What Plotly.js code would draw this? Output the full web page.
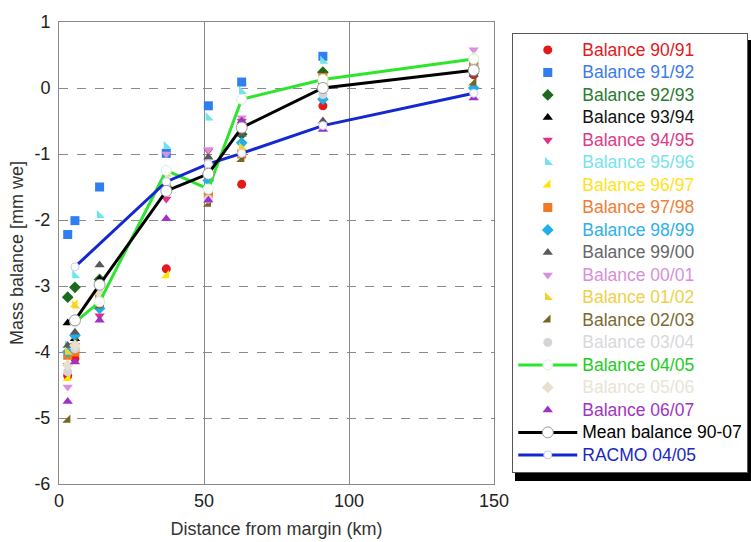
<!DOCTYPE html>
<html><head><meta charset="utf-8">
<script src="https://cdn.plot.ly/plotly-3.0.1.min.js"></script>
<style>body{margin:0;background:#fff}#chart{width:751px;height:542px}</style>
</head><body><div id="chart"></div>
<script>
// Station distances from margin (km)
const distance = [3, 5.5, 14, 37, 51.5, 63, 91, 143];
// Balance series (m we) per station
const b9091 = [-4.36, -4.10, -3.30, -2.74, -1.60, -1.46, -0.27, 0.20];
const b9192 = [-2.22, -2.01, -1.50, -0.99, -0.27, 0.09, 0.48, 0.35];
const b9293 = [-3.17, -3.02, -2.90, -1.50, -1.30, -0.70, 0.24, 0.30];
const b9394 = [-3.56, -3.80, -2.90, -1.50, -1.25, -0.60, 0.05, 0.25];
const b9495 = [-4.20, -3.90, -3.45, -1.68, -0.95, -0.50, 0.10, 0.40];
const b9596 = [-3.90, -2.84, -1.93, -0.88, -0.45, -0.05, 0.41, 0.35];
const b9697 = [-4.40, -3.28, -3.10, -2.84, -1.50, -0.93, 0.15, 0.30];
const b9798 = [-4.05, -4.00, -3.20, -1.50, -1.60, -1.00, 0.16, 0.36];
const b9899 = [-4.00, -3.75, -3.34, -1.40, -1.40, -0.83, -0.17, 0.00];
const b9900 = [-3.90, -3.70, -2.68, -1.45, -1.05, -0.70, -0.50, 0.20];
const b0001 = [-4.53, -3.90, -3.12, -1.00, -0.93, -0.45, -0.55, 0.58];
const b0102 = [-4.00, -3.30, -3.20, -1.30, -1.20, -0.90, 0.10, 0.30];
const b0203 = [-5.03, -3.85, -3.30, -1.50, -1.76, -1.08, 0.10, 0.08];
const b0304 = [-4.30, -3.95, -3.20, -1.45, -1.68, -0.60, -0.10, 0.30];
const b0405 = [null, -3.55, -3.24, -1.25, -1.53, -0.17, 0.13, 0.44];
const b0506 = [-4.20, -3.90, -3.10, -1.40, -1.30, -0.55, 0.10, 0.46];
const b0607 = [-4.75, -4.15, -3.52, -1.98, -1.70, -0.50, -0.63, -0.15];
const meanBal = [null, -3.52, -2.98, -1.56, -1.30, -0.60, 0.00, 0.27];
const racmo = [null, -2.71, null, -1.42, -1.15, -0.99, -0.57, -0.08];

const xTicks = [0, 50, 100, 150];
const yTicks = [-6, -5, -4, -3, -2, -1, 0, 1];

const scatterDefs = [
  ['Balance 90/91', b9091, 'circle', '#e3191c', '#e3191c'],
  ['Balance 91/92', b9192, 'square', '#2f7ff0', '#3c7be6'],
  ['Balance 92/93', b9293, 'diamond', '#1c6a1c', '#2a7a30'],
  ['Balance 93/94', b9394, 'triangle-up', '#000000', '#111111'],
  ['Balance 94/95', b9495, 'triangle-down', '#e0308a', '#e03a84'],
  ['Balance 95/96', b9596, 'triangle-sw', '#6fe3f2', '#78e2f0'],
  ['Balance 96/97', b9697, 'triangle-se', '#ffe400', '#ffe21a'],
  ['Balance 97/98', b9798, 'square', '#f07a22', '#ef7d34'],
  ['Balance 98/99', b9899, 'diamond', '#1fb0ea', '#2fb0e6'],
  ['Balance 99/00', b9900, 'triangle-up', '#5a5a5a', '#666666'],
  ['Balance 00/01', b0001, 'triangle-down', '#d690e0', '#d890d8'],
  ['Balance 01/02', b0102, 'triangle-sw', '#f2d22c', '#f0d048'],
  ['Balance 02/03', b0203, 'triangle-se', '#7a6422', '#7a6a30'],
  ['Balance 03/04', b0304, 'circle', '#d4d4d8', '#d8d8dc'],
  null,
  ['Balance 05/06', b0506, 'diamond', '#e6e0cc', '#e8e4d6'],
  ['Balance 06/07', b0607, 'triangle-up', '#a030c8', '#a034c0']
];

const LF = 'font-size:17.5px;';
const traces = [];
scatterDefs.forEach((d, i) => {
  if (!d) return;
  traces.push({
    x: distance, y: d[1], type: 'scatter', mode: 'markers',
    name: '<span style="' + LF + 'color:' + d[4] + '">' + d[0] + '</span>',
    legendrank: i + 1,
    marker: {symbol: d[2], color: d[3], size: 9, line: {width: 0}}
  });
});
traces.push({
  x: distance, y: b0405, type: 'scatter', mode: 'lines+markers', connectgaps: true,
  name: '<span style="' + LF + 'color:#22cc22">Balance 04/05</span>', legendrank: 15,
  line: {color: '#2ee52e', width: 3},
  marker: {symbol: 'circle', size: 10, color: '#ffffff', line: {color: '#d8f0d8', width: 1}}
});
traces.push({
  x: distance, y: racmo, type: 'scatter', mode: 'lines+markers', connectgaps: true,
  name: '<span style="' + LF + 'color:#1a28c0">RACMO 04/05</span>', legendrank: 19,
  line: {color: '#1428d0', width: 3},
  marker: {symbol: 'circle', size: 8, color: '#ffffff', line: {color: '#c8ccf0', width: 1}}
});
traces.push({
  x: distance, y: meanBal, type: 'scatter', mode: 'lines+markers', connectgaps: true,
  name: '<span style="' + LF + 'color:#000">Mean balance 90-07</span>', legendrank: 18,
  line: {color: '#000000', width: 3},
  marker: {symbol: 'circle', size: 11, color: '#ffffff', line: {color: '#999999', width: 1}}
});

const layout = {
  width: 751, height: 542,
  margin: {l: 59, r: 257, t: 22, b: 58, autoexpand: false},
  paper_bgcolor: '#ffffff', plot_bgcolor: '#ffffff',
  font: {family: 'Liberation Sans, Arial, sans-serif', size: 15, color: '#222'},
  xaxis: {
    range: [0, 150], tickvals: xTicks, ticktext: xTicks.map(String),
    showgrid: true, gridcolor: '#8a8a8a', gridwidth: 1,
    showline: true, linecolor: '#8a8a8a', mirror: true, zeroline: false,
    ticks: '', tickfont: {size: 18, color: '#222'},
    title: {text: 'Distance from margin (km)', font: {size: 18, color: '#333'}, standoff: 12}
  },
  yaxis: {
    range: [-6, 1], tickvals: yTicks, ticktext: yTicks.map(String),
    showgrid: true, gridcolor: '#8a8a8a', gridwidth: 1, griddash: 'dash',
    showline: true, linecolor: '#8a8a8a', mirror: true, zeroline: false,
    ticks: '', tickfont: {size: 18, color: '#222'}, ticklabelstandoff: 4,
    title: {text: 'Mass balance [mm we]', font: {size: 18, color: '#333'}, standoff: 6}
  },
  showlegend: true,
  legend: {
    x: 1.042, xanchor: 'left', y: 0.977, yanchor: 'top',
    bgcolor: '#ffffff', bordercolor: '#555', borderwidth: 1,
    font: {size: 15, family: 'Liberation Sans, Arial, sans-serif'},
    itemwidth: 59, tracegroupgap: 0
  },
  shapes: [
    {type: 'rect', xref: 'paper', yref: 'paper', x0: 1.0483, x1: 1.62, y0: 0.0065, y1: 0.961,
     fillcolor: '#000', line: {width: 0}, layer: 'below'}
  ]
};

Plotly.newPlot('chart', traces, layout, {displayModeBar: false, staticPlot: true});
</script></body></html>
